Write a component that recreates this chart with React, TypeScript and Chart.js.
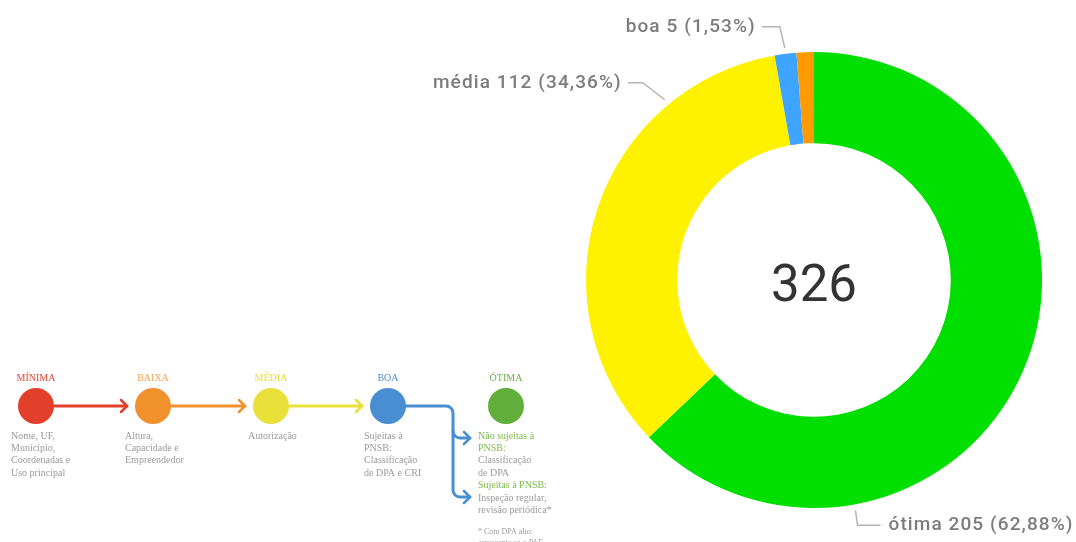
import React, { useEffect, useRef } from 'react';
import { Chart, registerables } from 'chart.js';

Chart.register(...registerables);

// ---- Doughnut data ----
const categories = ['ótima', 'média', 'boa', 'baixa'];
const values = [205, 112, 5, 4];
const sliceColors = ['#00DF00', '#FFF200', '#3DA4FF', '#FF9A00'];
const labelledSlices = [0, 1, 2];

// ---- Infographic (left) content ----
const stageTitles = ['MÍNIMA', 'BAIXA', 'MÉDIA', 'BOA', 'ÓTIMA'];
const stageColors = ['#E3402B', '#F0912D', '#EAE03A', '#4A8ED2', '#62AE3A'];
const stageTitleColors = ['#E2493A', '#F5A352', '#E9DB3C', '#4D8FD0', '#6CB04C'];
// each note line: [text, highlighted]
const stageNotes: [string, boolean][][] = [
  [['Nome, UF,', false], ['Município,', false], ['Coordenadas e', false], ['Uso principal', false]],
  [['Altura,', false], ['Capacidade e', false], ['Empreendedor', false]],
  [['Autorização', false]],
  [['Sujeitas à', false], ['PNSB:', false], ['Classificação', false], ['de DPA e CRI', false]],
  [
    ['Não sujeitas à', true],
    ['PNSB:', true],
    ['Classificação', false],
    ['de DPA', false],
    ['Sujeitas à PNSB:', true],
    ['Inspeção regular,', false],
    ['revisão periódica*', false],
  ],
];
const footnoteLines = ['* Com DPA alto:', 'acrescenta-se o PAE'];

// ---- Layout / style config (not data) ----
const labelLayout: Record<number, { frac: number; elbow: [number, number]; run: number }> = {
  0: { frac: 0.75, elbow: [2, 15], run: 23 },
  1: { frac: 0.76, elbow: [-22, -17], run: -15 },
  2: { frac: 0.5, elbow: [-5, -21], run: -18 },
};
const stageX = [36, 153, 271, 388, 506];
const noteX = [11, 125, 248, 364, 478];
const stageY = 406;
const stageR = 18;

const fmtPct = (v: number, total: number) =>
  ((v / total) * 100).toFixed(2).replace('.', ',') + '%';

function chevron(ctx: CanvasRenderingContext2D, x: number, y: number, s: number) {
  ctx.beginPath();
  ctx.moveTo(x - s, y - s);
  ctx.lineTo(x, y);
  ctx.lineTo(x - s, y + s);
  ctx.stroke();
}

const drawPlugin = {
  id: 'customDraw',
  afterDraw(chart: any) {
    const ctx: CanvasRenderingContext2D = chart.ctx;
    const meta = chart.getDatasetMeta(0);
    const total = values.reduce((a, b) => a + b, 0);
    const arc0 = meta.data[0];
    ctx.save();

    // centre total
    ctx.fillStyle = '#333333';
    ctx.font = '400 51px Roboto';
    ctx.textAlign = 'center';
    ctx.textBaseline = 'middle';
    ctx.fillText(String(total), arc0.x, arc0.y + 8);

    // labels with leader lines
    labelledSlices.forEach((i) => {
      const el = meta.data[i];
      const lay = labelLayout[i];
      const ang = el.startAngle + lay.frac * (el.endAngle - el.startAngle);
      const r = el.outerRadius + 6;
      const ax = el.x + Math.cos(ang) * r;
      const ay = el.y + Math.sin(ang) * r;
      const ex = ax + lay.elbow[0];
      const ey = ay + lay.elbow[1];
      const hx = ex + lay.run;
      ctx.strokeStyle = '#B5B5B5';
      ctx.lineWidth = 1.5;
      ctx.beginPath();
      ctx.moveTo(ax, ay);
      ctx.lineTo(ex, ey);
      ctx.lineTo(hx, ey);
      ctx.stroke();
      const text = `${categories[i]} ${values[i]} (${fmtPct(values[i], total)})`;
      ctx.fillStyle = '#7C7C7C';
      ctx.font = '500 19px Roboto';
      (ctx as any).letterSpacing = '1.1px';
      ctx.textBaseline = 'middle';
      if (lay.run < 0) {
        ctx.textAlign = 'right';
        ctx.fillText(text, hx - 6, ey);
      } else {
        ctx.textAlign = 'left';
        ctx.fillText(text, hx + 8, ey);
      }
      (ctx as any).letterSpacing = '0px';
    });

    // ---- infographic ----
    ctx.lineCap = 'round';
    ctx.lineJoin = 'round';
    // straight arrows
    for (let i = 0; i < 3; i++) {
      ctx.strokeStyle = stageColors[i];
      ctx.lineWidth = 3;
      const x1 = stageX[i] + stageR;
      const x2 = stageX[i + 1] - stageR - 8;
      ctx.beginPath();
      ctx.moveTo(x1, stageY);
      ctx.lineTo(x2, stageY);
      ctx.stroke();
      ctx.lineWidth = 2.5;
      chevron(ctx, x2, stageY, 6);
    }
    // branching blue arrow
    {
      const c = stageColors[3];
      ctx.strokeStyle = c;
      ctx.lineWidth = 3;
      const vx = 453;
      const y1 = 438;
      const y2 = 497;
      const tip = 470;
      const rr = 7;
      ctx.beginPath();
      ctx.moveTo(stageX[3] + stageR, stageY);
      ctx.arcTo(vx, stageY, vx, stageY + rr, rr);
      ctx.lineTo(vx, y2 - rr);
      ctx.arcTo(vx, y2, vx + rr, y2, rr);
      ctx.lineTo(tip, y2);
      ctx.stroke();
      ctx.beginPath();
      ctx.moveTo(vx, y1 - rr);
      ctx.arcTo(vx, y1, vx + rr, y1, rr);
      ctx.lineTo(tip, y1);
      ctx.stroke();
      ctx.lineWidth = 2.5;
      chevron(ctx, tip, y1, 6);
      chevron(ctx, tip, y2, 6);
    }
    // circles, titles, notes
    stageTitles.forEach((t, i) => {
      ctx.fillStyle = stageColors[i];
      ctx.beginPath();
      ctx.arc(stageX[i], stageY, stageR, 0, Math.PI * 2);
      ctx.fill();
      ctx.fillStyle = stageTitleColors[i];
      ctx.font = '10px "Liberation Serif"';
      ctx.textAlign = 'center';
      ctx.textBaseline = 'middle';
      ctx.fillText(t, stageX[i], 378);
      ctx.textAlign = 'left';
      ctx.font = '10px "Liberation Serif"';
      stageNotes[i].forEach(([line, hi], j) => {
        ctx.fillStyle = hi ? '#7DBB4A' : '#9A9A9A';
        ctx.fillText(line, noteX[i], 436 + j * 12.4);
      });
    });
    ctx.font = '8px "Liberation Serif"';
    ctx.fillStyle = '#9A9A9A';
    footnoteLines.forEach((line, j) => {
      ctx.fillText(line, noteX[4], 532 + j * 11);
    });

    ctx.restore();
  },
};

export default function App() {
  const ref = useRef<HTMLCanvasElement>(null);
  useEffect(() => {
    if (!ref.current) return;
    const chart = new Chart(ref.current, {
      type: 'doughnut',
      data: {
        labels: categories,
        datasets: [
          {
            data: values,
            backgroundColor: sliceColors,
            borderWidth: 0,
            hoverOffset: 0,
          },
        ],
      },
      options: {
        responsive: false,
        animation: false,
        cutout: '60%',
        layout: { padding: { left: 586, right: 34, top: 52, bottom: 34 } },
        plugins: { legend: { display: false }, tooltip: { enabled: false } },
      },
      plugins: [drawPlugin],
    });
    if ((document as any).fonts && (document as any).fonts.ready) {
      (document as any).fonts.ready.then(() => chart.draw());
    }
    return () => chart.destroy();
  }, []);
  return (
    <div style={{ position: 'fixed', left: 0, top: 0, width: 1076, height: 542, background: '#fff' }}>
      <canvas ref={ref} width={1076} height={542} style={{ display: 'block' }} />
    </div>
  );
}
